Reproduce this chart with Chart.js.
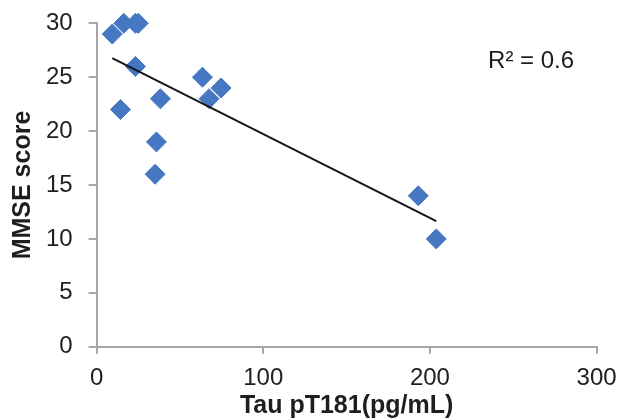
<!DOCTYPE html>
<html><head><meta charset="utf-8">
<script src="https://cdn.jsdelivr.net/npm/chart.js@4/dist/chart.umd.min.js"></script>
<style>html,body{margin:0;padding:0;background:#fff}#wrap{width:619px;height:420px}</style>
</head><body><div id="wrap"><canvas id="c" width="619" height="420"></canvas></div>
<script>
const tauPT181 = [9.4, 16.3, 23.3, 25.0, 23.3, 14.3, 38.3, 35.9, 35.1, 63.5, 67.5, 74.7, 193.0, 203.8];
const mmseScore = [29, 30, 30, 30, 26, 22, 23, 19, 16, 25, 23, 24, 14, 10];
const xTicks = [0, 100, 200, 300];
const yTicks = [0, 5, 10, 15, 20, 25, 30];
const xTitle = 'Tau pT181(pg/mL)';
const yTitle = 'MMSE score';
const rSquaredLabel = 'R\u00B2 = 0.6';

// least-squares linear trendline from the data
const n = tauPT181.length;
const mx = tauPT181.reduce((a, b) => a + b, 0) / n;
const my = mmseScore.reduce((a, b) => a + b, 0) / n;
let sxy = 0, sxx = 0;
for (let i = 0; i < n; i++) { sxy += (tauPT181[i] - mx) * (mmseScore[i] - my); sxx += (tauPT181[i] - mx) ** 2; }
const slope = sxy / sxx, intercept = my - slope * mx;
const xMin = Math.min(...tauPT181), xMax = Math.max(...tauPT181);
const trend = [{x: xMin, y: intercept + slope * xMin}, {x: xMax, y: intercept + slope * xMax}];

const FONT = "'Liberation Sans', Arial, sans-serif";
const AXIS = '#a6a6a6';
const TXT = '#1e1e1e';

const r2Plugin = {
  id: 'r2',
  afterDraw(chart) {
    const {ctx, chartArea: ca} = chart;
    ctx.save();
    ctx.font = "24px " + FONT;
    ctx.fillStyle = TXT;
    ctx.textBaseline = 'alphabetic';
    ctx.textAlign = 'left';
    ctx.fillText(rSquaredLabel, ca.left + 0.783 * (ca.right - ca.left), ca.top + 0.138 * (ca.bottom - ca.top));
    ctx.restore();
  }
};

new Chart(document.getElementById('c'), {
  type: 'scatter',
  data: {
    datasets: [
      {
        type: 'line',
        data: trend,
        borderColor: '#151515',
        borderWidth: 2,
        pointRadius: 0,
        fill: false,
        clip: false,
        order: 0
      },
      {
        data: tauPT181.map((x, i) => ({x, y: mmseScore[i]})),
        pointStyle: 'rectRot',
        pointRadius: 10,
        pointHoverRadius: 10,
        backgroundColor: '#4677c2',
        borderColor: '#4677c2',
        borderWidth: 1,
        clip: false,
        order: 1
      }
    ]
  },
  options: {
    responsive: false,
    devicePixelRatio: 1,
    animation: false,
    events: [],
    layout: {padding: {left: 0, right: 22.4, top: 23.3, bottom: 0}},
    plugins: {legend: {display: false}, tooltip: {enabled: false}},
    scales: {
      x: {
        type: 'linear',
        min: xTicks[0], max: xTicks[xTicks.length - 1],
        afterBuildTicks: s => { s.ticks = xTicks.map(v => ({value: v})); },
        afterFit: s => { s.height = 73.3; s.paddingLeft = 0; s.paddingRight = 0; },
        border: {display: true, color: AXIS, width: 2},
        grid: {drawOnChartArea: false, drawTicks: true, tickLength: 7, color: AXIS, lineWidth: 2},
        ticks: {font: {family: FONT, size: 24}, color: TXT, padding: 10, maxRotation: 0},
        title: {display: true, text: xTitle, font: {family: FONT, size: 25, weight: 'bold', lineHeight: 1}, color: TXT, padding: {top: 0, bottom: 1}}
      },
      y: {
        type: 'linear',
        min: yTicks[0], max: yTicks[yTicks.length - 1],
        afterBuildTicks: s => { s.ticks = yTicks.map(v => ({value: v})); },
        afterFit: s => { s.width = 96.6; s.paddingTop = 0; s.paddingBottom = 0; },
        border: {display: true, color: AXIS, width: 2},
        grid: {drawOnChartArea: false, drawTicks: true, tickLength: 8, color: AXIS, lineWidth: 2},
        ticks: {font: {family: FONT, size: 24}, color: TXT, padding: 16},
        title: {display: true, text: yTitle, font: {family: FONT, size: 25, weight: 'bold', lineHeight: 1}, color: TXT, padding: {top: 11, bottom: 0}}
      }
    }
  },
  plugins: [r2Plugin]
});
</script>
</body></html>
